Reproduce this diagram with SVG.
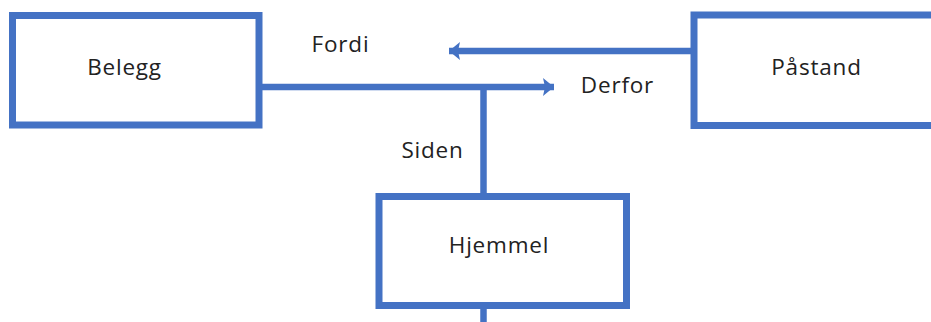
<svg xmlns="http://www.w3.org/2000/svg" width="931" height="322" viewBox="0 0 931 322">
<style>
.box{fill:#fff;stroke:#4472C4;stroke-width:7}
.ln{fill:none;stroke:#4472C4;stroke-width:6.5}
text{font-family:"Open Sans","Noto Sans",sans-serif;font-size:22.5px;letter-spacing:0.8px;fill:#222}
</style>
<defs>
<marker id="ah" markerUnits="userSpaceOnUse" markerWidth="12" markerHeight="18" refX="11" refY="9" orient="auto">
<path d="M0,0 L11,9 L0,18 L2,9 Z" fill="#4472C4"/>
</marker>
</defs>
<g id="connectors">
<line class="ln" x1="259" y1="87" x2="554" y2="87" marker-end="url(#ah)"/>
<line class="ln" x1="483.5" y1="87" x2="483.5" y2="196"/>
<line class="ln" x1="694" y1="51" x2="449" y2="51" marker-end="url(#ah)"/>
<line class="ln" x1="483.5" y1="305" x2="483.5" y2="322"/>
</g>
<g id="belegg">
<rect class="box" x="12.5" y="15.5" width="246.5" height="109.5"/>
<text x="124.5" y="75" text-anchor="middle">Belegg</text>
</g>
<g id="pastand">
<rect class="box" x="694" y="15" width="250" height="110.5"/>
<text x="816.5" y="75" text-anchor="middle">Påstand</text>
</g>
<g id="hjemmel">
<rect class="box" x="379" y="196.5" width="247.5" height="109"/>
<text x="499" y="253" text-anchor="middle">Hjemmel</text>
</g>
<g id="labels">
<text x="340.5" y="52" text-anchor="middle">Fordi</text>
<text x="617.5" y="93" text-anchor="middle">Derfor</text>
<text x="432.5" y="158" text-anchor="middle">Siden</text>
</g>
</svg>
